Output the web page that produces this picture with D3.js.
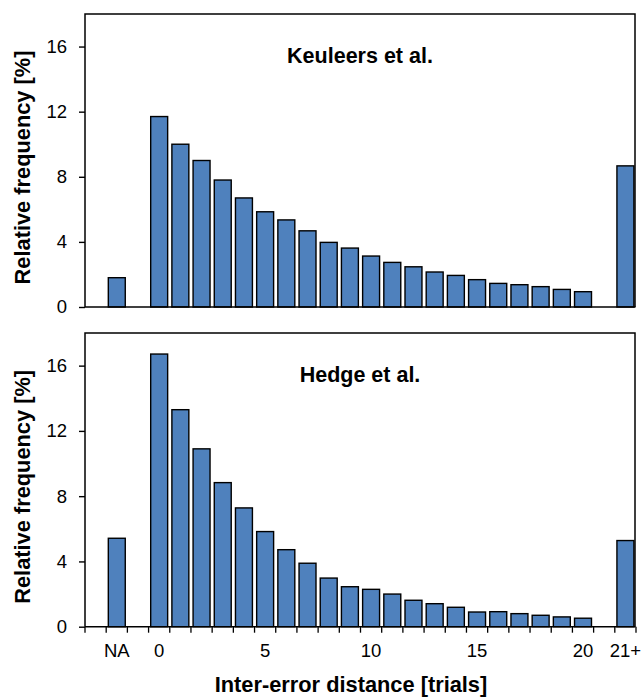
<!DOCTYPE html>
<html>
<head>
<meta charset="utf-8">
<script src="https://cdn.jsdelivr.net/npm/d3@7"></script>
<style>
  html, body { margin: 0; padding: 0; background: #fff; }
  svg { display: block; }
  text { font-family: "Liberation Sans", Arial, sans-serif; fill: #000; }
</style>
</head>
<body>
<script>
// ---- data ----
const categories = ["gapA", "NA", "gapB", "0","1","2","3","4","5","6","7","8","9","10",
                    "11","12","13","14","15","16","17","18","19","20", "gapC", "21+"];
const barCategories = ["NA","0","1","2","3","4","5","6","7","8","9","10",
                       "11","12","13","14","15","16","17","18","19","20","21+"];
const keuleersValues = [1.8, 11.7, 10.0, 9.0, 7.8, 6.7, 5.85, 5.35, 4.68, 3.97, 3.62, 3.13,
                        2.74, 2.47, 2.15, 1.94, 1.68, 1.45, 1.37, 1.25, 1.08, 0.94, 8.67];
const hedgeValues = [5.42, 16.71, 13.3, 10.9, 8.83, 7.28, 5.83, 4.72, 3.89, 2.98, 2.45, 2.29,
                     2.0, 1.62, 1.41, 1.19, 0.9, 0.92, 0.8, 0.7, 0.6, 0.52, 5.28];
const panelTitles = ["Keuleers et al.", "Hedge et al."];
const xTickLabels = ["NA", "0", "5", "10", "15", "20", "21+"];
const yTicks = [0, 4, 8, 12, 16];
const yMax = 18;

const W = 641, H = 697;
const svg = d3.select("body").append("svg").attr("width", W).attr("height", H);

const left = 85, right = 635;
const x = d3.scaleBand().domain(categories).range([left, right + 1])
  .paddingInner(0.2).paddingOuter(0.1);

const panels = [
  { title: panelTitles[0], values: keuleersValues, top: 14, bottom: 307, xTicks: false },
  { title: panelTitles[1], values: hedgeValues, top: 333, bottom: 626.7, xTicks: true }
];

const barColor = "#4f81bd";

panels.forEach(p => {
  const y = d3.scaleLinear().domain([0, yMax]).range([p.bottom, p.top]);
  const g = svg.append("g");
  const data = barCategories.map((c, i) => ({ c, v: p.values[i] }));

  // bars
  g.selectAll("rect.bar").data(data).enter().append("rect")
    .attr("class", "bar")
    .attr("x", d => x(d.c))
    .attr("width", x.bandwidth())
    .attr("y", d => y(d.v))
    .attr("height", d => y(0) - y(d.v))
    .attr("fill", barColor)
    .attr("stroke", "#000")
    .attr("stroke-width", 1.4);

  // y axis
  const yAxis = d3.axisLeft(y).tickValues(yTicks).tickSize(6).tickPadding(12);
  const ya = g.append("g").attr("transform", `translate(${left},0)`).call(yAxis);
  ya.select(".domain").remove();
  ya.selectAll("line").attr("stroke", "#000").attr("stroke-width", 1.4);
  ya.selectAll("text").style("font-size", "18.5px").style("font-family", "Liberation Sans, Arial, sans-serif").attr("fill", "#000");

  // frame: left, top, right lines
  g.append("path")
    .attr("d", `M${left},${p.bottom}V${p.top}H${right}V${p.bottom}`)
    .attr("fill", "none").attr("stroke", "#000").attr("stroke-width", 1.5);
  // x axis line
  g.append("line")
    .attr("x1", left).attr("x2", right + 0.5)
    .attr("y1", p.bottom).attr("y2", p.bottom)
    .attr("stroke", "#000").attr("stroke-width", 1.6);

  if (p.xTicks) {
    const step = x.step();
    const boundaries = categories.map(c => x(c) - step * x.paddingInner() / 2)
      .concat([x(categories[categories.length - 1]) + x.bandwidth() + step * x.paddingInner() / 2]);
    g.selectAll("line.xt").data(boundaries).enter().append("line")
      .attr("class", "xt")
      .attr("x1", d => d).attr("x2", d => d)
      .attr("y1", p.bottom).attr("y2", p.bottom + 6)
      .attr("stroke", "#000").attr("stroke-width", 1.3);
    g.selectAll("text.xl").data(xTickLabels).enter().append("text")
      .attr("class", "xl")
      .attr("x", d => x(d) + x.bandwidth() / 2)
      .attr("y", 657)
      .attr("text-anchor", "middle")
      .style("font-size", "18.5px")
      .text(d => d);
  }

  // panel title
  g.append("text")
    .attr("x", 360).attr("y", p.top + 48.5)
    .attr("text-anchor", "middle")
    .style("font-size", "21.5px").style("font-weight", "bold")
    .text(p.title);

  // y label
  g.append("text")
    .attr("transform", `translate(29.5,${(p.top + p.bottom) / 2 + 7}) rotate(-90)`)
    .attr("text-anchor", "middle")
    .style("font-size", "21.8px").style("font-weight", "bold")
    .text("Relative frequency [%]");
});

svg.append("text")
  .attr("x", 351).attr("y", 691.5)
  .attr("text-anchor", "middle")
  .style("font-size", "21.8px").style("font-weight", "bold")
  .text("Inter-error distance [trials]");
</script>
</body>
</html>
